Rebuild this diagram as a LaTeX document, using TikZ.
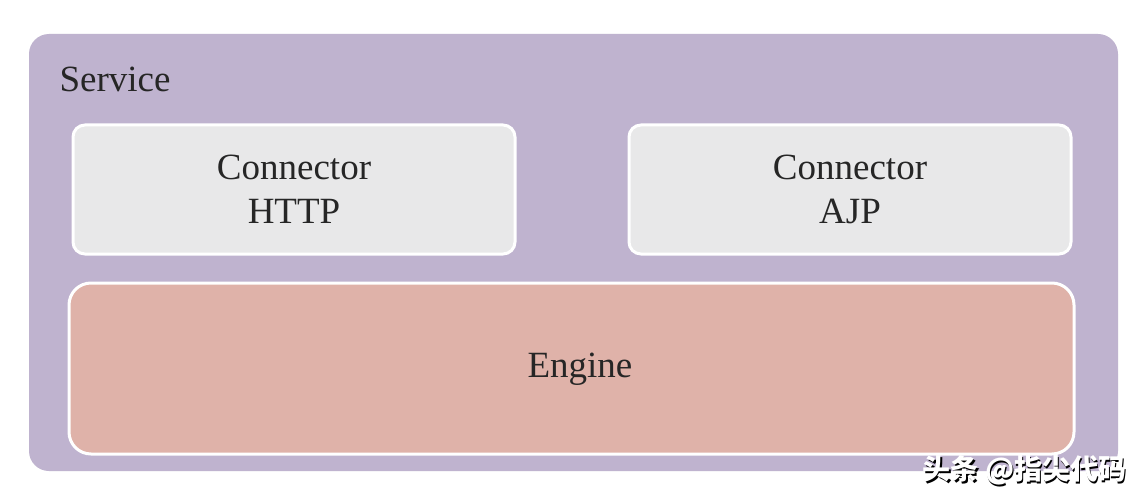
\documentclass[tikz,border=0pt]{standalone}
\usepackage{fontspec}
\setmainfont{Liberation Serif}
\newfontfamily\cjk{Noto Sans CJK SC}
\definecolor{svc}{HTML}{BFB3CF}
\definecolor{conn}{HTML}{E8E8E9}
\definecolor{eng}{HTML}{DFB2A9}
\tikzset{
  box/.style={draw=white, line width=3pt, rounded corners=12pt},
  lbl/.style={font=\fontsize{37}{44}\selectfont, align=center, text=black!85},
  wmk/.style={font=\cjk\bfseries\fontsize{28}{28}\selectfont, inner sep=0pt},
}
\begin{document}
\begin{tikzpicture}[x=1pt,y=-1pt]
\useasboundingbox (0,0) rectangle (1146,500);
\fill[white] (0,0) rectangle (1146,500);
\fill[svc, rounded corners=20pt] (29,34) rectangle (1118,471);
\node[lbl, anchor=base west] (svc) at (56,92) {Service};
\draw[box, fill=conn] (73,125) rectangle (515,254);
\node[lbl] (http) at (294,189) {Connector\\HTTP};
\draw[box, fill=conn] (629,125) rectangle (1071,254);
\node[lbl] (ajp) at (850,189) {Connector\\AJP};
\draw[box, fill=eng, rounded corners=22pt] (69,283) rectangle (1074,454);
\node[lbl] (eng) at (580,369) {Engine};
\node[wmk, text=black] (wms) at (1026,472) {头条 @指尖代码};
\node[wmk, text=white] (wm) at (1024.5,470.5) {头条 @指尖代码};
\end{tikzpicture}
\end{document}
